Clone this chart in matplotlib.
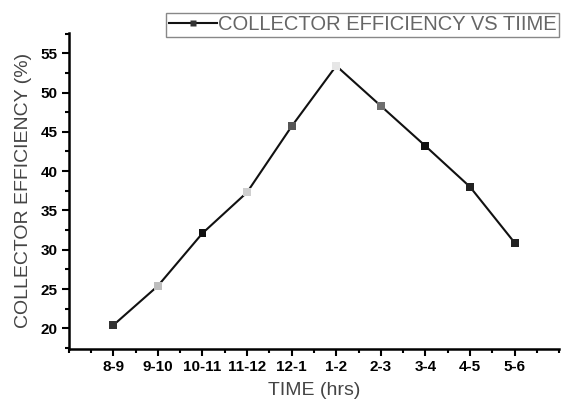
import matplotlib
matplotlib.use("Agg")
import matplotlib.pyplot as plt
import matplotlib.ticker as ticker
from matplotlib.lines import Line2D

plt.rcParams['font.family'] = ['Liberation Sans', 'DejaVu Sans']

time_slots = ["8-9", "9-10", "10-11", "11-12", "12-1", "1-2", "2-3", "3-4", "4-5", "5-6"]
efficiency = [20.4, 25.4, 32.1, 37.3, 45.7, 53.4, 48.3, 43.2, 38.0, 30.9]
marker_colors = ["#333333", "#bdbdbd", "#111111", "#cfcfcf", "#555555",
                 "#e6e6e6", "#6e6e6e", "#111111", "#222222", "#222222"]

fig = plt.figure(figsize=(5.62, 4.0), dpi=100)
ax = fig.add_axes([0.1222, 0.128, 0.8728, 0.79])

x = list(range(len(time_slots)))
ax.plot(x, efficiency, color="#111111", linewidth=1.5, zorder=2)
ax.scatter(x, efficiency, marker="s", s=32, c=marker_colors,
           edgecolors="none", zorder=3)

ax.set_xlim(-1, 10)
ax.set_ylim(17.4, 57.6)
ax.set_xticks(x)
ax.set_xticklabels(time_slots, fontweight="bold", fontsize=11)
ax.xaxis.set_minor_locator(ticker.MultipleLocator(0.5))
ax.yaxis.set_major_locator(ticker.FixedLocator([20, 25, 30, 35, 40, 45, 50, 55]))
ax.yaxis.set_minor_locator(ticker.MultipleLocator(2.5))
for lab in ax.get_yticklabels():
    lab.set_fontweight("bold")
    lab.set_fontsize(11)

ax.spines["top"].set_visible(False)
ax.spines["right"].set_visible(False)
ax.spines["left"].set_linewidth(1.8)
ax.spines["bottom"].set_linewidth(1.8)
ax.tick_params(which="major", direction="out", length=5, width=1.5, pad=3)
ax.tick_params(which="minor", direction="out", length=3, width=1.5)

ax.set_xlabel("TIME (hrs)", fontsize=14, color="#444444", labelpad=6)
ax.set_ylabel("COLLECTOR EFFICIENCY (%)", fontsize=14, color="#444444", labelpad=6)

handle = Line2D([], [], color="#111111", linewidth=1.5, marker="s",
                markersize=5, markerfacecolor="#333333", markeredgecolor="none")
leg = fig.legend([handle], ["COLLECTOR EFFICIENCY VS TIIME"],
                 loc="upper right", bbox_to_anchor=(0.995, 0.968),
                 borderaxespad=0, fancybox=False, framealpha=1,
                 edgecolor="#888888", fontsize=14.5, handlelength=2.4,
                 handletextpad=0.05, borderpad=0.12)
leg.get_frame().set_linewidth(1.0)
for t in leg.get_texts():
    t.set_color("#666666")

fig.savefig("out.png", dpi=100)
